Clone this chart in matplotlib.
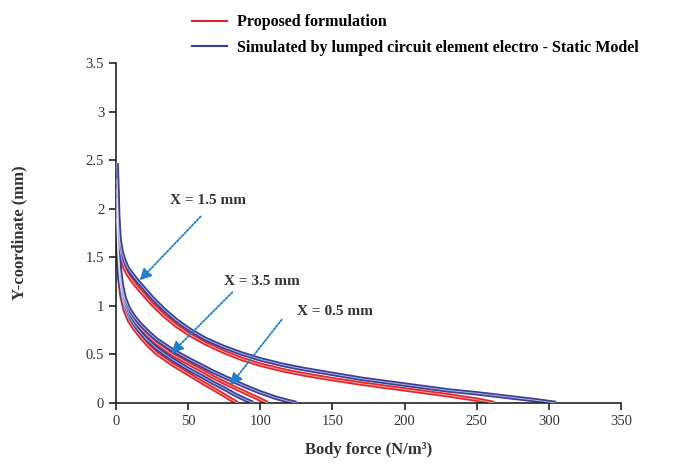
import matplotlib.pyplot as plt
from matplotlib.lines import Line2D

# ===========================
# Data
# ===========================

# X = 1.5 mm
x15_blue = [0.5, 1, 1.6, 2.5, 4, 6, 8, 11, 15, 20, 25, 33, 42, 51, 62, 75, 87,
            100, 115, 130, 150, 170, 190, 210, 230, 250, 270, 290, 305]
y15_blue = [2.47, 2.2, 1.9, 1.68, 1.55, 1.46, 1.39, 1.33, 1.255, 1.17, 1.085,
            0.965, 0.85, 0.755, 0.66, 0.575, 0.51, 0.45, 0.395, 0.35, 0.30,
            0.25, 0.21, 0.17, 0.13, 0.10, 0.065, 0.03, 0.0]
x15_red = [0.5, 1, 1.6, 2.5, 4, 6, 8, 11, 15, 20, 25, 33, 42, 51, 62, 75, 87,
           100, 115, 130, 150, 170, 190, 210, 230, 250, 262]
y15_red = [2.3, 2.05, 1.8, 1.6, 1.48, 1.39, 1.33, 1.265, 1.19, 1.105, 1.02,
           0.905, 0.795, 0.705, 0.615, 0.525, 0.455, 0.395, 0.34, 0.295, 0.245,
           0.20, 0.16, 0.12, 0.08, 0.035, 0.0]

# X = 3.5 mm
x35_blue = [0.5, 1, 1.6, 2.5, 4, 6, 9, 13, 17, 22, 28, 39, 50, 60, 67, 75, 82,
            90, 100, 110, 118, 125]
y35_blue = [2.2, 1.85, 1.6, 1.4, 1.22, 1.08, 0.97, 0.88, 0.81, 0.735, 0.655,
            0.545, 0.455, 0.38, 0.325, 0.27, 0.223, 0.17, 0.11, 0.058, 0.025, 0.0]
x35_red = [0.5, 1, 1.6, 2.5, 4, 6, 9, 13, 17, 22, 28, 39, 50, 60, 67, 75, 82,
           90, 98, 105]
y35_red = [2.1, 1.78, 1.55, 1.35, 1.18, 1.04, 0.93, 0.84, 0.77, 0.695, 0.615,
           0.50, 0.41, 0.33, 0.27, 0.21, 0.16, 0.105, 0.05, 0.0]

# X = 0.5 mm
x05_blue = [0.5, 1, 1.6, 2.5, 4, 6, 9, 13, 17, 22, 28, 39, 50, 60, 67, 75, 82,
            89, 95]
y05_blue = [2.0, 1.72, 1.5, 1.3, 1.13, 1.0, 0.89, 0.80, 0.725, 0.645, 0.565,
            0.45, 0.35, 0.27, 0.21, 0.15, 0.09, 0.04, 0.0]
x05_red = [0.5, 1, 1.6, 2.5, 4, 6, 9, 13, 17, 22, 28, 39, 50, 60, 67, 75, 80, 84]
y05_red = [1.9, 1.65, 1.45, 1.26, 1.09, 0.96, 0.85, 0.76, 0.685, 0.6, 0.515,
           0.40, 0.30, 0.21, 0.15, 0.08, 0.035, 0.0]

x_ticks = [0, 50, 100, 150, 200, 250, 300, 350]
y_ticks = [0, 0.5, 1, 1.5, 2, 2.5, 3, 3.5]
y_tick_labels = ["0", "0.5", "1", "1.5", "2", "2.5", "3", "3.5"]

# label, text position, arrow start, arrow tip
annotations = [
    ("X = 1.5 mm", (64, 2.09), (60, 1.94), (15, 1.24)),
    ("X = 3.5 mm", (101, 1.25), (82, 1.16), (37, 0.49)),
    ("X = 0.5 mm", (152, 0.94), (116, 0.88), (78, 0.16)),
]

RED = "#e3262b"
BLUE = "#3b3f98"
ARROW = "#1f7fc8"

plt.rcParams["font.family"] = ["Liberation Serif", "DejaVu Serif"]

# ===========================
# Plot
# ===========================

fig = plt.figure(figsize=(6.97, 4.67), dpi=100)
ax = fig.add_axes([0.1664, 0.137, 0.7245, 0.728])


def draw(x, y, color):
    # hollow-looking stroke like the original
    ax.plot(x, y, color=color, lw=3.2, solid_capstyle="butt",
            solid_joinstyle="round", zorder=2)
    ax.plot(x, y, color="white", lw=0.7, alpha=0.6,
            solid_joinstyle="round", zorder=3)


for x, y in [(x15_red, y15_red), (x35_red, y35_red), (x05_red, y05_red)]:
    draw(x, y, RED)
for x, y in [(x15_blue, y15_blue), (x35_blue, y35_blue), (x05_blue, y05_blue)]:
    draw(x, y, BLUE)

for label, txt, start, tip in annotations:
    ax.text(txt[0], txt[1], label, ha="center", va="center",
            fontsize=11, fontweight="bold", color="#333333", zorder=5)
    ax.annotate("", xy=tip, xytext=start,
                arrowprops=dict(arrowstyle="-|>,head_length=0.7,head_width=0.35",
                                color=ARROW, lw=1.3, linestyle=(0, (1, 1))),
                zorder=4)

ax.set_xlim(0, 350)
ax.set_ylim(0, 3.5)
ax.set_xticks(x_ticks)
ax.set_yticks(y_ticks)
ax.set_yticklabels(y_tick_labels)

for s in ["top", "right"]:
    ax.spines[s].set_visible(False)
for s in ["left", "bottom"]:
    ax.spines[s].set_color("#222222")
    ax.spines[s].set_linewidth(1.2)

ax.tick_params(direction="out", length=5, width=1.2, labelsize=10.5,
               colors="#222222", labelcolor="#333333")

ax.set_xlabel("Body force (N/m³)", fontsize=12, fontweight="bold",
              color="#333333", labelpad=10)
ax.set_ylabel("Y-coordinate (mm)", fontsize=12, fontweight="bold",
              color="#333333", labelpad=42)

handles = [
    Line2D([0], [0], color=RED, lw=1.5),
    Line2D([0], [0], color=BLUE, lw=1.5),
]
fig.legend(handles,
           ["Proposed formulation",
            "Simulated by lumped circuit element electro - Static Model"],
           loc="upper left", bbox_to_anchor=(0.255, 1.0), frameon=False,
           handlelength=2.2, handletextpad=0.6,
           labelspacing=0.6, prop={"weight": "bold", "size": 11.5})

fig.savefig("out.png", dpi=100)
